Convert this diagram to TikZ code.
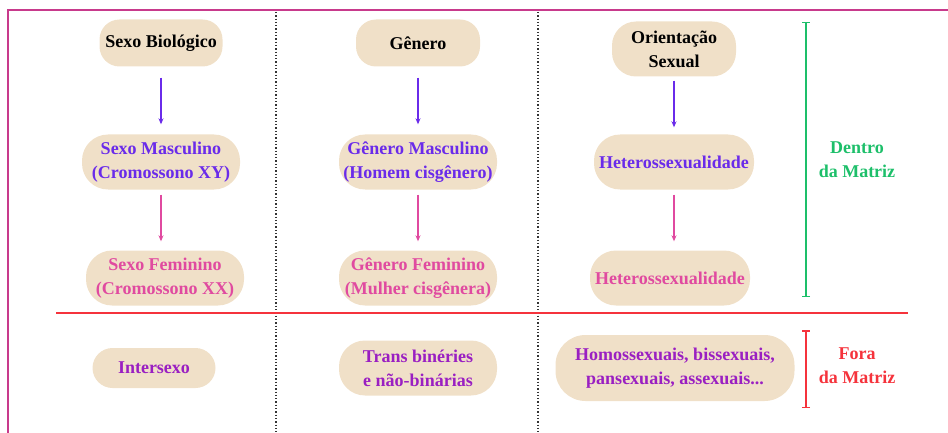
\documentclass[tikz,border=0pt]{standalone}
\usepackage{fontspec}
\setmainfont{Liberation Serif}[BoldFont={Liberation Serif Bold}]
\newfontfamily\tnr{Liberation Serif}
\usetikzlibrary{arrows.meta}
\definecolor{bege}{HTML}{F0E0C8}
\definecolor{roxo}{HTML}{6A2BEA}
\definecolor{rosa}{HTML}{E04AA0}
\definecolor{violeta}{HTML}{9A1FC2}
\definecolor{verde}{HTML}{1DBF6A}
\definecolor{vermelho}{HTML}{F5333C}
\definecolor{moldura}{HTML}{C83A8C}
\tikzset{
  caixa/.style={rectangle,fill=bege,rounded corners=20pt,align=center,
    font=\tnr\bfseries\fontsize{18}{24}\selectfont,inner sep=0pt},
  seta/.style={-{Stealth[length=6pt,width=5pt]},line width=1.3pt},
  texto/.style={align=center,font=\tnr\bfseries\fontsize{18}{24}\selectfont}
}
\begin{document}
\begin{tikzpicture}[x=1pt,y=-1pt]
\useasboundingbox (0,0) rectangle (948,433);
% moldura e divisorias
\draw[moldura,line width=2pt] (8,433) -- (8,10) -- (948,10);
\draw[black!80,dotted,line width=1.3pt] (276,12) -- (276,433);
\draw[black!80,dotted,line width=1.3pt] (538,12) -- (538,433);
\draw[vermelho,line width=1.3pt] (56,313) -- (908,313);

% linha de cima
\node[caixa,minimum width=123pt,minimum height=47pt] (sb) at (161,43) {Sexo Biológico};
\node[caixa,minimum width=124pt,minimum height=47pt] (gen) at (418,43) {Gênero};
\node[caixa,minimum width=124pt,minimum height=55pt,rounded corners=24pt] (os) at (674,49) {Orientação\\Sexual};

% dentro da matriz
\node[caixa,text=roxo,minimum width=158pt,minimum height=55pt,rounded corners=26pt] (sm) at (161,162) {Sexo Masculino\\(Cromossono XY)};
\node[caixa,text=roxo,minimum width=158pt,minimum height=55pt,rounded corners=26pt] (gm) at (418,162) {Gênero Masculino\\(Homem cisgênero)};
\node[caixa,text=roxo,minimum width=160pt,minimum height=55pt,rounded corners=26pt] (ht) at (674,162) {Heterossexualidade};
\node[caixa,text=rosa,minimum width=158pt,minimum height=55pt,rounded corners=26pt] (sf) at (165,278) {Sexo Feminino\\(Cromossono XX)};
\node[caixa,text=rosa,minimum width=158pt,minimum height=55pt,rounded corners=26pt] (gf) at (418,278) {Gênero Feminino\\(Mulher cisgênera)};
\node[caixa,text=rosa,minimum width=160pt,minimum height=55pt,rounded corners=26pt] (hf) at (670,278) {Heterossexualidade};

% fora da matriz
\node[caixa,text=violeta,minimum width=123pt,minimum height=40pt] (in) at (154,368) {Intersexo};
\node[caixa,text=violeta,minimum width=158pt,minimum height=55pt,rounded corners=26pt] (tr) at (418,368) {Trans binéries\\ e não-binárias};
\node[caixa,text=violeta,minimum width=239pt,minimum height=66pt,rounded corners=30pt] (ho) at (675,368) {Homossexuais, bissexuais,\\pansexuais, assexuais...};

% setas
\draw[seta,roxo,shorten <=11pt,shorten >=10pt] (sb.south) -- (sb.south |- sm.north);
\draw[seta,roxo,shorten <=11pt,shorten >=10pt] (gen.south) -- (gen.south |- gm.north);
\draw[seta,roxo,shorten <=4pt,shorten >=7pt] (os.south) -- (os.south |- ht.north);
\draw[seta,rosa,shorten <=5pt,shorten >=9pt] (sm.south) -- (sm.south |- sf.north);
\draw[seta,rosa,shorten <=5pt,shorten >=9pt] (gm.south) -- (gm.south |- gf.north);
\draw[seta,rosa,shorten <=5pt,shorten >=9pt] (ht.south) -- (ht.south |- hf.north);

% chaves laterais
\draw[verde,line width=1.5pt,{Bar[width=8pt]}-{Bar[width=8pt]}] (806,22) -- (806,297);
\node[texto,text=verde] (dentro) at (857,160) {Dentro\\da Matriz};
\draw[vermelho,line width=1.5pt,{Bar[width=8pt]}-{Bar[width=8pt]}] (806,330) -- (806,408);
\node[texto,text=vermelho] (fora) at (857,366) {Fora\\da Matriz};
\end{tikzpicture}
\end{document}
